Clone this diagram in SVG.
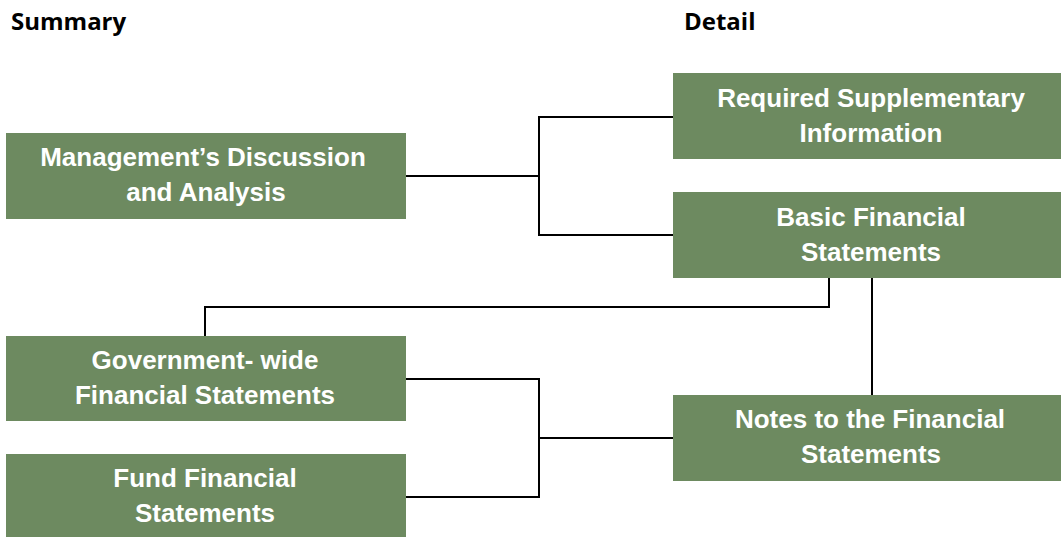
<svg xmlns="http://www.w3.org/2000/svg" width="1061" height="537" viewBox="0 0 1061 537">
<style>
.box{fill:#6d8a60}
.t{font-family:"Liberation Sans",Arial,sans-serif;font-weight:bold;font-size:26px;fill:#fff;text-anchor:middle}
.h{font-family:"Open Sans","Liberation Sans",sans-serif;font-weight:bold;font-size:24px;fill:#000}
.c{fill:none;stroke:#000;stroke-width:2}
</style>
<rect width="1061" height="537" fill="#fff"/>
<text class="h" x="11" y="30">Summary</text>
<text class="h" x="684" y="30">Detail</text>
<g id="connectors">
<polyline class="c" points="406,176 539,176"/>
<polyline class="c" points="673,117 539,117 539,235 673,235"/>
<polyline class="c" points="829,278 829,307 205,307 205,336"/>
<polyline class="c" points="872,278 872,395"/>
<polyline class="c" points="406,379 539,379 539,497 406,497"/>
<polyline class="c" points="539,438 673,438"/>
</g>
<g id="mda"><rect class="box" x="6" y="133" width="400" height="86"/><text class="t" x="203" y="166">Management’s Discussion</text><text class="t" x="206" y="201">and Analysis</text></g>
<g id="rsi"><rect class="box" x="673" y="73" width="388" height="86"/><text class="t" x="871" y="107">Required Supplementary</text><text class="t" x="871" y="142">Information</text></g>
<g id="bfs"><rect class="box" x="673" y="192" width="388" height="86"/><text class="t" x="871" y="226">Basic Financial</text><text class="t" x="871" y="261">Statements</text></g>
<g id="gov"><rect class="box" x="6" y="336" width="400" height="85"/><text class="t" x="205" y="369">Government- wide</text><text class="t" x="205" y="404">Financial Statements</text></g>
<g id="fund"><rect class="box" x="6" y="454" width="400" height="83"/><text class="t" x="205" y="487">Fund Financial</text><text class="t" x="205" y="522">Statements</text></g>
<g id="notes"><rect class="box" x="673" y="395" width="388" height="86"/><text class="t" x="870" y="428">Notes to the Financial</text><text class="t" x="871" y="463">Statements</text></g>
</svg>
